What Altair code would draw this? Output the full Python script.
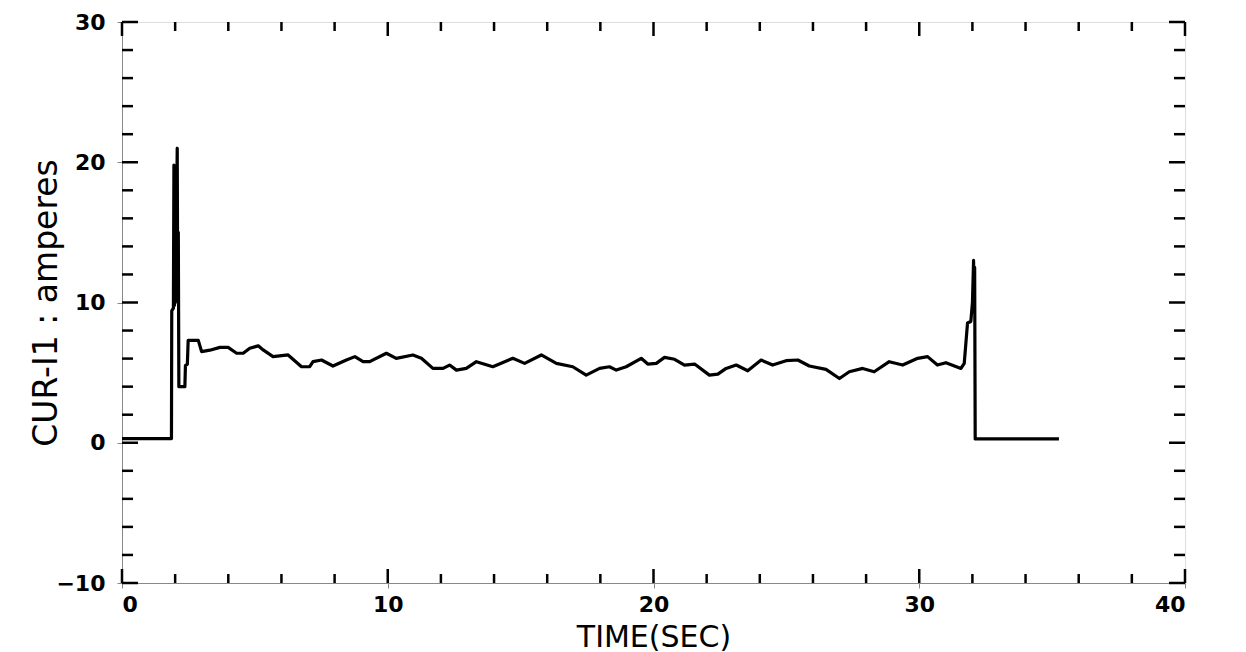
import altair as alt
import pandas as pd

# ---- data ----
time_sec = [
    0, 1.861, 1.872, 1.934, 1.954, 1.975, 2.006, 2.037, 2.057, 2.078,
    2.098, 2.119, 2.140, 2.366, 2.387, 2.459, 2.490, 2.871, 2.995, 3.304,
    3.685, 3.994, 4.313, 4.560, 4.808, 5.127, 5.312, 5.683, 6.250, 6.755,
    7.064, 7.187, 7.507, 7.939, 8.444, 8.763, 9.072, 9.320, 9.948, 10.319,
    10.947, 11.266, 11.699, 12.080, 12.327, 12.585, 12.956, 13.336, 13.955, 14.707,
    15.150, 15.778, 16.345, 16.963, 17.468, 17.972, 18.343, 18.600, 18.972, 19.538,
    19.785, 20.105, 20.414, 20.795, 21.166, 21.547, 22.103, 22.423, 22.732, 23.113,
    23.546, 24.050, 24.483, 24.988, 25.431, 25.863, 26.491, 26.996, 27.367, 27.872,
    28.304, 28.871, 29.376, 29.942, 30.313, 30.684, 31.003, 31.570, 31.693, 31.755,
    31.817, 31.941, 32.002, 32.044, 32.064, 32.085, 32.105, 35.257,
]
current_amps = [
    0.3, 0.3, 9.4, 9.6, 19.8, 9.8, 15.5, 12.0, 17.0, 21.0,
    10.0, 15.0, 4.0, 4.0, 5.5, 5.6, 7.3, 7.3, 6.5, 6.6,
    6.8, 6.8, 6.38, 6.38, 6.74, 6.91, 6.62, 6.14, 6.26, 5.42,
    5.42, 5.78, 5.90, 5.47, 5.90, 6.14, 5.78, 5.78, 6.38, 6.02,
    6.26, 6.02, 5.30, 5.30, 5.54, 5.18, 5.30, 5.78, 5.42, 6.02,
    5.66, 6.26, 5.66, 5.42, 4.82, 5.30, 5.42, 5.18, 5.42, 6.02,
    5.61, 5.66, 6.09, 5.95, 5.54, 5.61, 4.82, 4.89, 5.30, 5.54,
    5.13, 5.90, 5.54, 5.85, 5.90, 5.47, 5.23, 4.58, 5.06, 5.30,
    5.06, 5.78, 5.54, 6.02, 6.14, 5.54, 5.71, 5.30, 5.66, 7.1,
    8.54, 8.65, 10.0, 13.0, 9.8, 12.5, 0.27, 0.27,
]
x_major = [0, 10, 20, 30, 40]
x_minor = [2, 4, 6, 8, 12, 14, 16, 18, 22, 24, 26, 28, 32, 34, 36, 38]
y_major = [-10, 0, 10, 20, 30]
y_minor = [-8, -6, -4, -2, 2, 4, 6, 8, 12, 14, 16, 18, 22, 24, 26, 28]

W, H = 1063, 561
FONT = "DejaVu Sans"

df = pd.DataFrame({"i": range(len(time_sec)), "t": time_sec, "v": current_amps})
xs = alt.Scale(domain=[0, 40], nice=False)
ys = alt.Scale(domain=[-10, 30], nice=False)

line = alt.Chart(df).mark_line(color="black", strokeWidth=3.2, strokeJoin="round").encode(
    x=alt.X("t:Q", scale=xs, axis=alt.Axis(
        values=x_major, title="TIME(SEC)", grid=False, labelFont=FONT, labelFontSize=22,
        labelFontWeight="bold", labelColor="black", labelPadding=6,
        titleFont=FONT, titleFontSize=30, titleFontWeight="normal", titleColor="black",
        titleY=63, titleBaseline="alphabetic")),
    y=alt.Y("v:Q", scale=ys, axis=alt.Axis(
        values=y_major, title="CUR-I1 : amperes", grid=False, labelFont=FONT, labelFontSize=22,
        labelFontWeight="bold", labelColor="black", labelPadding=12,
        titleFont=FONT, titleFontSize=33, titleFontWeight="normal", titleColor="black",
        titleX=-66, titleBaseline="alphabetic")),
    order="i:Q",
)

def xticks(vals, length):
    d = pd.DataFrame({"t": vals})
    base = alt.Chart(d).mark_rule(color="black", strokeWidth=2.5)
    bot = base.encode(x=alt.X("t:Q", scale=xs), y=alt.value(H), y2=alt.value(H - length))
    top = base.encode(x=alt.X("t:Q", scale=xs), y=alt.value(0), y2=alt.value(length))
    return [bot, top]

def yticks(vals, length):
    d = pd.DataFrame({"v": vals})
    base = alt.Chart(d).mark_rule(color="black", strokeWidth=2.5)
    lef = base.encode(y=alt.Y("v:Q", scale=ys), x=alt.value(0), x2=alt.value(length))
    rig = base.encode(y=alt.Y("v:Q", scale=ys), x=alt.value(W), x2=alt.value(W - length))
    return [lef, rig]

layers = [line] + xticks(x_major, 14) + xticks(x_minor, 9) + yticks(y_major, 16) + yticks(y_minor, 11)

chart = alt.layer(*layers).properties(
    width=W, height=H,
    autosize=alt.AutoSizeParams(type="none"),
    padding={"left": 114, "top": 14, "right": 50, "bottom": 69},
).configure_axis(
    domain=False, ticks=False, grid=False
).configure_view(
    stroke="black", strokeWidth=2.5
).configure(background="white")

chart.save("out.html", embed_options={"renderer": "svg", "actions": False})
